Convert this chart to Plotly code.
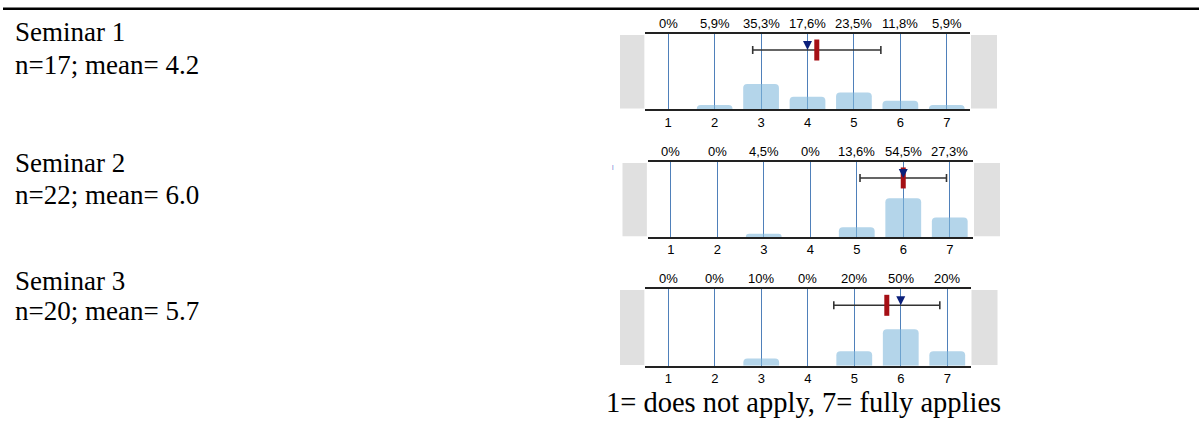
import plotly.graph_objects as go

# ---------------- data ----------------
categories = [1, 2, 3, 4, 5, 6, 7]
pct_seminar1 = [0, 5.9, 35.3, 17.6, 23.5, 11.8, 5.9]
pct_seminar2 = [0, 0, 4.5, 0, 13.6, 54.5, 27.3]
pct_seminar3 = [0, 0, 10, 0, 20, 50, 20]
seminar_names = ["Seminar 1", "Seminar 2", "Seminar 3"]
n_values = [17, 22, 20]
mean_values = [4.2, 6.0, 5.7]
sd_values = [1.38, 0.93, 1.14]
median_values = [4, 6, 6]
caption = "1= does not apply, 7= fully applies"

W, H = 1199, 421

def px_x(p):
    return p / W

def px_y(p):
    return 1 - p / H

# panel frames in pixels: (left, right, top, bottom)
frames = [(645, 970, 34.3, 109.3), (647.5, 973, 162.3, 237.0), (645, 970.5, 289.3, 365.7)]
pcts = [pct_seminar1, pct_seminar2, pct_seminar3]

fig = go.Figure()
layout = dict(
    width=W, height=H, margin=dict(l=0, r=0, t=0, b=0),
    paper_bgcolor="white", plot_bgcolor="white", showlegend=False,
    barcornerradius=4, bargap=0.23,
)
annotations = []
shapes = []

Y_ERR = 83
YMAX = 105
BLUE_GRID = "#4f80ba"

for i in range(3):
    sfx = "" if i == 0 else str(i + 1)
    xa, ya = "x" + sfx, "y" + sfx
    l, r, t, b = frames[i]
    layout["xaxis" + sfx] = dict(
        domain=[px_x(l), px_x(r)], range=[0.5, 7.5], anchor=ya,
        tickvals=categories, ticktext=[str(c) for c in categories],
        showgrid=True, gridcolor=BLUE_GRID, gridwidth=1.2,
        showline=True, linecolor="#222222", linewidth=1.5, mirror=True,
        ticks="", zeroline=False, fixedrange=True,
        tickfont=dict(family="Liberation Sans, Arial", size=13, color="black"),
    )
    layout["yaxis" + sfx] = dict(
        domain=[px_y(b), px_y(t)], range=[0, YMAX], anchor=xa,
        showgrid=False, showticklabels=False, showline=False, zeroline=False,
        ticks="", fixedrange=True,
    )
    # bars
    fig.add_trace(go.Bar(
        x=categories, y=pcts[i], xaxis=xa, yaxis=ya, width=0.77,
        marker=dict(color="rgba(130,185,220,0.6)", line=dict(width=0)),
        hoverinfo="skip",
    ))
    # mean +/- sd with red mean marker
    fig.add_trace(go.Scatter(
        x=[mean_values[i]], y=[Y_ERR], xaxis=xa, yaxis=ya, mode="markers",
        error_x=dict(type="data", array=[sd_values[i]], color="#333333",
                     thickness=1.6, width=4),
        marker=dict(symbol="line-ns", size=15,
                    line=dict(width=5, color="#a50f15"), color="#a50f15"),
        hoverinfo="skip", cliponaxis=False,
    ))
    # median marker
    fig.add_trace(go.Scatter(
        x=[median_values[i]], y=[Y_ERR], xaxis=xa, yaxis=ya, mode="markers",
        marker=dict(symbol="arrow-down", size=9, color="#0b1f7a"),
        hoverinfo="skip", cliponaxis=False,
    ))
    # percentage labels above frame
    for c, v in zip(categories, pcts[i]):
        label = f"{v:g}".replace(".", ",") + "%"
        annotations.append(dict(
            x=c, y=1, xref=xa, yref=ya + " domain", text=label, showarrow=False,
            yanchor="bottom", yshift=1,
            font=dict(family="Liberation Sans, Arial", size=13, color="black"),
        ))
    # grey side boxes
    wdom = r - l
    for x0, x1 in [(-25 / wdom, -0.002), (1.003, 1 + 27 / wdom)]:
        shapes.append(dict(
            type="rect", xref=xa + " domain", yref=ya + " domain",
            x0=x0, x1=x1, y0=0.01, y1=0.99,
            fillcolor="#e0e0e0", line=dict(width=0), layer="below",
        ))

# left-hand text
text_centers = [(31.9, 65.2), (162.9, 194.5), (280.5, 311.2)]
for i in range(3):
    y1, y2 = text_centers[i]
    annotations.append(dict(
        x=px_x(13), y=px_y(y1), xref="paper", yref="paper", xanchor="left",
        yanchor="middle", text=seminar_names[i], showarrow=False,
        font=dict(family="Liberation Serif, Times New Roman", size=27, color="black"),
    ))
    annotations.append(dict(
        x=px_x(13), y=px_y(y2), xref="paper", yref="paper", xanchor="left",
        yanchor="middle", text=f"n={n_values[i]}; mean= {mean_values[i]:.1f}",
        showarrow=False,
        font=dict(family="Liberation Serif, Times New Roman", size=27, color="black"),
    ))

# caption
annotations.append(dict(
    x=px_x(604), y=px_y(402.5), xref="paper", yref="paper", xanchor="left",
    yanchor="middle", text=caption, showarrow=False,
    font=dict(family="Liberation Serif, Times New Roman", size=28.5, color="black"),
))

# small blue stray mark
annotations.append(dict(
    x=px_x(612.7), y=px_y(167), xref="paper", yref="paper", xanchor="center",
    yanchor="middle", text="|", showarrow=False,
    font=dict(family="Liberation Sans", size=6, color="#1f4fbf"),
))

# top rule
shapes.append(dict(
    type="line", xref="paper", yref="paper", x0=px_x(3), x1=1,
    y0=px_y(8.7), y1=px_y(8.7), line=dict(color="black", width=2.5),
))

layout["annotations"] = annotations
layout["shapes"] = shapes
fig.update_layout(**layout)
fig.write_html(
    "out.html",
    config={"displayModeBar": False},
    post_script="document.body.style.margin='0';document.body.style.overflow='hidden';",
)
